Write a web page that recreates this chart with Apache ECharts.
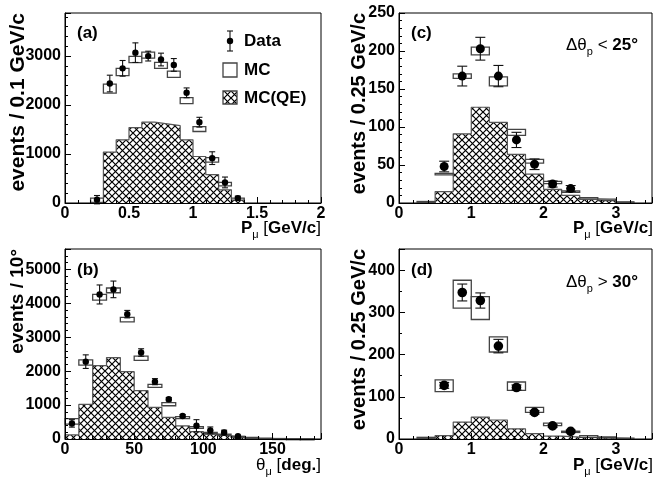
<!DOCTYPE html>
<html><head><meta charset="utf-8">
<script src="https://cdn.jsdelivr.net/npm/echarts@6/dist/echarts.min.js"></script>
<style>html,body{margin:0;padding:0;background:#fff}#c{width:655px;height:477px}</style>
</head><body><div id="c"></div>
<script>
// ---------------- DATA ----------------
// Panel (a): P_mu, bin width 0.1 GeV/c
const aBinWidth = 0.1;
const aBinCenters = [0.25,0.35,0.45,0.55,0.65,0.75,0.85,0.95,1.05,1.15,1.25,1.35];
const aDataVal = [68,2440,2750,3070,3000,2930,2820,2250,1650,916,420,100];
const aDataErr = [85,170,160,200,100,130,130,100,100,130,110,40];
const aMCVal = [57,2335,2675,2930,3020,2810,2630,2090,1510,880,385,80];
const aMCErr = [43,92,75,65,60,60,65,60,50,45,35,20];
const aQEVal = [15,1040,1290,1540,1650,1615,1580,1290,950,580,270,90];

// Panel (b): theta_mu, bin width 10 deg
const bBinWidth = 10;
const bBinCenters = [5,15,25,35,45,55,65,75,85,95,105,115,125,135,145,155,165,175];
const bDataX = [5,15,25,35,45,55,65,75,85,95,105,115,125];
const bDataVal = [460,2280,4260,4410,3680,2550,1690,1170,680,390,255,190,80];
const bDataErr = [110,200,280,245,110,110,90,50,40,180,100,70,30];
const bMCVal = [520,2255,4180,4380,3520,2380,1565,1025,630,340,175,125,70,40,20,10,5,3];
const bMCErr = [80,75,85,70,65,65,45,45,30,25,20,20,10,8,5,4,3,2];
const bQEVal = [120,1020,2160,2400,1985,1425,935,640,385,215,140,90,40,20,10,5,3,2];

// Panel (c): P_mu, dtheta_p < 25 deg, bin width 0.25 GeV/c
const cBinWidth = 0.25;
const cBinCenters = [0.375,0.625,0.875,1.125,1.375,1.625,1.875,2.125,2.375,2.625,2.875,3.125];
const cDataX = [0.625,0.875,1.125,1.375,1.625,1.875,2.125,2.375];
const cDataVal = [48,167,203,167,83,51,25,19];
const cDataErr = [7,13,15,14,10,7,4,4];
const cMCVal = [1.5,38,167,200,160,93,55,27,15,6,4,1];
const cMCErr = [0.5,1,3,5,6,4,2.5,1.5,1,1,1,0.5];
const cQEVal = [1,15,91,126,106,64,38,18,10,5,4,1];

// Panel (d): P_mu, dtheta_p > 30 deg, bin width 0.25 GeV/c
const dBinWidth = 0.25;
const dBinCenters = [0.375,0.625,0.875,1.125,1.375,1.625,1.875,2.125,2.375,2.625,2.875,3.125];
const dDataX = [0.625,0.875,1.125,1.375,1.625,1.875,2.125,2.375];
const dDataVal = [127,347,328,220,122,63,31,18];
const dDataErr = [7,20,18,16,6,4,3,3];
const dMCVal = [3,126,343,310,224,125,69,34.5,17,6,4,1.5];
const dMCErr = [1,14,33,27,18,10,6,3,1.5,2,1,0.5];
const dQEVal = [3,8,40,52,45,24,12.5,7,4.5,3,2,1];

// ---------------- STYLE HELPERS ----------------
const FONT = '"Liberation Sans", Arial, Helvetica, sans-serif';
function hatchCanvas(){
  const s = 7;
  const cv = document.createElement('canvas');
  cv.width = s; cv.height = s;
  const g = cv.getContext('2d');
  g.fillStyle = '#fff'; g.fillRect(0,0,s,s);
  g.strokeStyle = '#000'; g.lineWidth = 1.2;
  g.beginPath();
  g.moveTo(-1,-1); g.lineTo(s+1,s+1);
  g.moveTo(s+1,-1); g.lineTo(-1,s+1);
  g.stroke();
  return cv;
}
const HATCH = {image: hatchCanvas(), repeat: 'repeat'};

function stepPoints(centers, w, vals){
  const pts = [[centers[0]-w/2, 0]];
  centers.forEach((c,i)=>pts.push([c-w/2, vals[i]]));
  pts.push([centers[centers.length-1]+w/2, 0]);
  return pts;
}
function boxRows(centers, w, vals, errs){
  return centers.map((c,i)=>[c-w/2, c+w/2, vals[i], errs[i]]);
}
function pointRows(xs, vals, errs){
  return xs.map((x,i)=>[x, vals[i], errs[i]]);
}

function qeSeries(gi, centers, w, vals){
  return {type:'line', xAxisIndex:gi, yAxisIndex:gi, step:'end', data:stepPoints(centers,w,vals),
    showSymbol:false, symbol:'none', silent:true, z:2,
    lineStyle:{color:'#555', width:1.2}, areaStyle:{color:HATCH, opacity:1}};
}
function mcSeries(gi, centers, w, vals, errs){
  return {type:'custom', xAxisIndex:gi, yAxisIndex:gi, z:3, silent:true,
    data: boxRows(centers,w,vals,errs), encode:{x:[0,1], y:2},
    renderItem(params, api){
      const lo=api.value(0), hi=api.value(1), v=api.value(2), e=api.value(3);
      const p1 = api.coord([lo, v+e]), p2 = api.coord([hi, v-e]);
      return {type:'rect', shape:{x:p1[0], y:p1[1], width:p2[0]-p1[0], height:Math.max(p2[1]-p1[1],1)},
        style:{fill:'#fff', stroke:'#444', lineWidth:1.3}};
    }};
}
function dataSeries(gi, xs, vals, errs, r, cap){
  return {type:'custom', xAxisIndex:gi, yAxisIndex:gi, z:4, silent:true,
    data: pointRows(xs,vals,errs), encode:{x:0, y:1},
    renderItem(params, api){
      const x=api.value(0), y=api.value(1), e=api.value(2);
      const c=api.coord([x,y]), t=api.coord([x,y+e]), b=api.coord([x,y-e]);
      const ls = {stroke:'#111', lineWidth:1.1};
      return {type:'group', children:[
        {type:'line', shape:{x1:c[0],y1:t[1],x2:c[0],y2:b[1]}, style:ls},
        {type:'line', shape:{x1:c[0]-cap,y1:t[1],x2:c[0]+cap,y2:t[1]}, style:ls},
        {type:'line', shape:{x1:c[0]-cap,y1:b[1],x2:c[0]+cap,y2:b[1]}, style:ls},
        {type:'circle', shape:{cx:c[0], cy:c[1], r:r}, style:{fill:'#000'}}
      ]};
    }};
}

const labelStyle = {color:'#000', fontFamily:FONT, fontWeight:'bold', fontSize:16, formatter:(v)=>String(v)};
function xAx(gi, min, max, interval, showMax){
  return {type:'value', gridIndex:gi, min, max, interval, z:5,
    axisLine:{show:true, onZero:false, lineStyle:{color:'#000', width:1}},
    axisTick:{show:true, inside:true, length:6, lineStyle:{color:'#000'}},
    minorTick:{show:true, splitNumber:5, length:3, lineStyle:{color:'#000'}},
    splitLine:{show:false}, minorSplitLine:{show:false},
    axisLabel:Object.assign({margin:3, showMaxLabel:showMax, showMinLabel:true}, labelStyle)};
}
function yAx(gi, min, max, interval, showMax, minorN){
  return {type:'value', gridIndex:gi, min, max, interval, z:5,
    axisLine:{show:true, onZero:false, lineStyle:{color:'#000', width:1}},
    axisTick:{show:true, inside:true, length:6, lineStyle:{color:'#000'}},
    minorTick:{show:true, splitNumber:minorN, length:3, lineStyle:{color:'#000'}},
    splitLine:{show:false}, minorSplitLine:{show:false},
    axisLabel:Object.assign({margin:4, showMaxLabel:showMax}, labelStyle)};
}

const richBase = {
  b:{fontFamily:FONT, fontWeight:'bold', fontSize:17, fill:'#000', color:'#000'},
  n:{fontFamily:FONT, fontWeight:'normal', fontSize:17, fill:'#000', color:'#000'},
  sub:{fontFamily:FONT, fontWeight:'normal', fontSize:11, padding:[13,0,0,0], color:'#000'}
};
function txt(x, y, text, align, extra){
  return Object.assign({type:'text', x, y, silent:true, z:10,
    style:{text, fill:'#000', font:'bold 17px '+FONT, align:align||'left', verticalAlign:'middle', rich:richBase}}, extra||{});
}
function yTitle(x, top, text, size){
  return {type:'text', x, y:top, rotation:Math.PI/2, silent:true, z:10,
    style:{text, fill:'#000', font:'bold '+size+'px '+FONT, align:'right', verticalAlign:'middle'}};
}

const chart = echarts.init(document.getElementById('c'), null, {renderer:'canvas'});
const gridBase = {show:true, borderColor:'#000', borderWidth:1, backgroundColor:'transparent', containLabel:false};

chart.setOption({
  animation:false,
  backgroundColor:'#fff',
  grid:[
    Object.assign({left:65, top:13, width:256, height:190}, gridBase),
    Object.assign({left:65, top:249, width:256, height:190}, gridBase),
    Object.assign({left:399, top:13, width:253, height:190}, gridBase),
    Object.assign({left:399, top:249, width:253, height:190}, gridBase)
  ],
  xAxis:[
    xAx(0, 0, 2, 0.5, true),
    xAx(1, 0, 185, 50, false),
    xAx(2, 0, 3.5, 1, false),
    xAx(3, 0, 3.5, 1, false)
  ],
  yAxis:[
    yAx(0, 0, 3880, 1000, false, 5),
    yAx(1, 0, 5600, 1000, false, 5),
    yAx(2, 0, 250, 50, true, 5),
    yAx(3, 0, 450, 100, false, 2)
  ],
  series:[
    qeSeries(0, aBinCenters, aBinWidth, aQEVal),
    mcSeries(0, aBinCenters, aBinWidth, aMCVal, aMCErr),
    dataSeries(0, aBinCenters, aDataVal, aDataErr, 3.2, 3),
    qeSeries(1, bBinCenters, bBinWidth, bQEVal),
    mcSeries(1, bBinCenters, bBinWidth, bMCVal, bMCErr),
    dataSeries(1, bDataX, bDataVal, bDataErr, 3.2, 3),
    qeSeries(2, cBinCenters, cBinWidth, cQEVal),
    mcSeries(2, cBinCenters, cBinWidth, cMCVal, cMCErr),
    dataSeries(2, cDataX, cDataVal, cDataErr, 4.5, 5),
    qeSeries(3, dBinCenters, dBinWidth, dQEVal),
    mcSeries(3, dBinCenters, dBinWidth, dMCVal, dMCErr),
    dataSeries(3, dDataX, dDataVal, dDataErr, 4.8, 5)
  ],
  graphic:[
    txt(77, 33, '(a)'),
    txt(77, 270, '(b)'),
    txt(411, 33, '(c)'),
    txt(411, 270, '(d)'),
    txt(566, 45, '{n|Δθ}{sub|p}{n| < }{b|25°}'),
    txt(566, 282, '{n|Δθ}{sub|p}{n| > }{b|30°}'),
    txt(321, 228, '{b|P}{sub|μ}{n| [}{b|GeV/c}{n|]}', 'right'),
    txt(653, 228, '{b|P}{sub|μ}{n| [}{b|GeV/c}{n|]}', 'right'),
    txt(321, 465, '{n|θ}{sub|μ}{n| [}{b|deg.}{n|]}', 'right'),
    txt(653, 465, '{b|P}{sub|μ}{n| [}{b|GeV/c}{n|]}', 'right'),
    yTitle(18, 13, 'events / 0.1 GeV/c', 21),
    yTitle(18, 249, 'events / 10°', 19),
    yTitle(359, 13, 'events / 0.25 GeV/c', 20),
    yTitle(359, 249, 'events / 0.25 GeV/c', 20),
    // legend of panel (a)
    {type:'group', silent:true, z:10, children:[
      {type:'line', shape:{x1:230,y1:31,x2:230,y2:51}, style:{stroke:'#111', lineWidth:1.1}},
      {type:'line', shape:{x1:227,y1:31,x2:233,y2:31}, style:{stroke:'#111', lineWidth:1.1}},
      {type:'line', shape:{x1:227,y1:51,x2:233,y2:51}, style:{stroke:'#111', lineWidth:1.1}},
      {type:'circle', shape:{cx:230, cy:41, r:3.2}, style:{fill:'#000'}},
      {type:'rect', shape:{x:223, y:63, width:14, height:14}, style:{fill:'#fff', stroke:'#444', lineWidth:1.3}},
      {type:'rect', shape:{x:223, y:91, width:14, height:13}, style:{fill:HATCH, stroke:'#444', lineWidth:1.3}}
    ]},
    txt(244, 41, 'Data'),
    txt(244, 70, 'MC'),
    txt(244, 98, 'MC(QE)')
  ]
});
</script></body></html>
